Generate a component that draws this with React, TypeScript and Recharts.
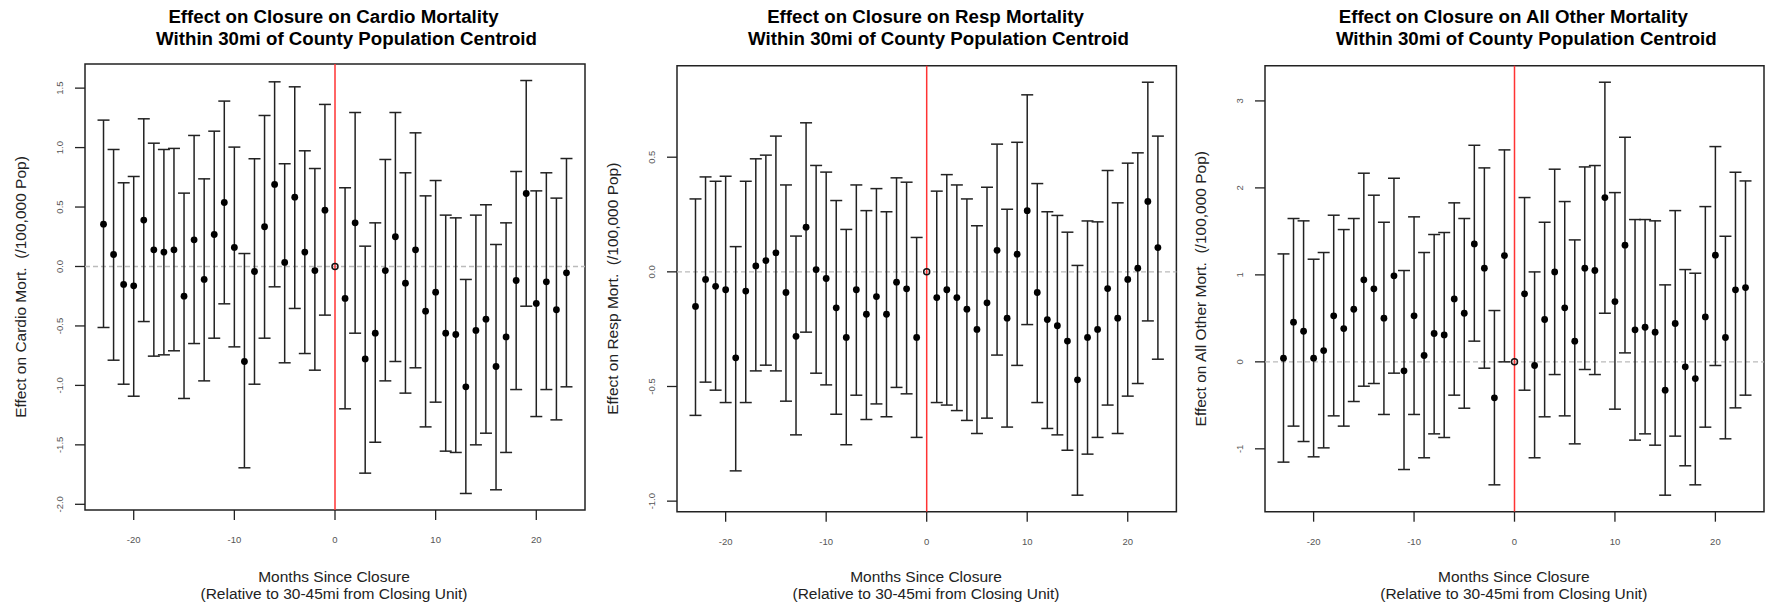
import React from 'react';
import { ScatterChart, Scatter, XAxis, YAxis, ErrorBar, ReferenceLine, ReferenceArea } from 'recharts';

// Months relative to closure (month 0 is the reference period, drawn separately)
const months = [
  -23, -22, -21, -20, -19, -18, -17, -16, -15, -14, -13, -12, -11, -10, -9, -8, -7, -6, -5, -4, -3, -2, -1,
  1, 2, 3, 4, 5, 6, 7, 8, 9, 10, 11, 12, 13, 14, 15, 16, 17, 18, 19, 20, 21, 22, 23,
];
const referenceMonth = [0];
const referenceValue = [0];

const cardioEst = [
  0.356, 0.101, -0.151, -0.163, 0.39, 0.14, 0.121, 0.14, -0.25, 0.224, -0.109, 0.269, 0.538, 0.16, -0.799, -0.042, 0.334, 0.69, 0.034, 0.583, 0.121, -0.034, 0.474,
  -0.269, 0.367, -0.777, -0.561, -0.034, 0.25, -0.14, 0.14, -0.376, -0.216, -0.561, -0.572, -1.012, -0.538, -0.443, -0.841, -0.592, -0.118, 0.614, -0.311, -0.129, -0.364, -0.053,
];
const cardioLo = [
  -0.513, -0.788, -0.99, -1.091, -0.463, -0.754, -0.743, -0.709, -1.11, -0.648, -0.962, -0.603, -0.314, -0.676, -1.693, -0.99, -0.603, -0.171, -0.81, -0.353, -0.732, -0.872, -0.409,
  -1.197, -0.561, -1.738, -1.478, -0.962, -0.799, -1.065, -0.852, -1.349, -1.141, -1.553, -1.564, -1.909, -1.5, -1.402, -1.878, -1.564, -1.035, -0.334, -1.262, -1.035, -1.29, -1.012,
];
const cardioHi = [
  1.231, 0.984, 0.704, 0.757, 1.242, 1.037, 0.984, 0.993, 0.617, 1.102, 0.737, 1.138, 1.391, 1.004, 0.109, 0.906, 1.27, 1.553, 0.864, 1.511, 0.973, 0.824, 1.363,
  0.662, 1.295, 0.171, 0.367, 0.9, 1.295, 0.788, 1.124, 0.594, 0.723, 0.432, 0.409, -0.109, 0.432, 0.519, 0.185, 0.367, 0.799, 1.564, 0.636, 0.788, 0.575, 0.908,
];

const respEst = [
  -0.151, -0.033, -0.063, -0.078, -0.375, -0.084, 0.026, 0.049, 0.083, -0.09, -0.281, 0.195, 0.01, -0.029, -0.157, -0.286, -0.078, -0.185, -0.108, -0.185, -0.045, -0.074, -0.286,
  -0.112, -0.078, -0.112, -0.163, -0.251, -0.135, 0.094, -0.202, 0.077, 0.267, -0.09, -0.208, -0.235, -0.302, -0.471, -0.286, -0.251, -0.073, -0.202, -0.033, 0.016, 0.307, 0.106,
];
const respLo = [
  -0.626, -0.481, -0.516, -0.57, -0.868, -0.57, -0.432, -0.407, -0.432, -0.564, -0.711, -0.263, -0.442, -0.493, -0.621, -0.754, -0.538, -0.644, -0.576, -0.632, -0.504, -0.532, -0.722,
  -0.57, -0.581, -0.605, -0.648, -0.705, -0.638, -0.363, -0.677, -0.408, -0.23, -0.57, -0.683, -0.711, -0.778, -0.974, -0.795, -0.722, -0.581, -0.705, -0.542, -0.487, -0.214, -0.381,
];
const respHi = [
  0.318, 0.414, 0.395, 0.417, 0.11, 0.395, 0.493, 0.509, 0.592, 0.379, 0.156, 0.65, 0.464, 0.435, 0.311, 0.185, 0.379, 0.267, 0.363, 0.262, 0.41, 0.391, 0.15,
  0.352, 0.424, 0.379, 0.318, 0.201, 0.369, 0.557, 0.273, 0.565, 0.772, 0.385, 0.262, 0.246, 0.173, 0.028, 0.222, 0.218, 0.442, 0.301, 0.474, 0.519, 0.827, 0.592,
];

const otherEst = [
  0.042, 0.456, 0.352, 0.042, 0.13, 0.529, 0.383, 0.605, 0.943, 0.839, 0.502, 0.989, -0.103, 0.529, 0.073, 0.326, 0.31, 0.724, 0.559, 1.356, 1.077, -0.414, 1.222,
  0.782, -0.042, 0.487, 1.034, 0.621, 0.238, 1.077, 1.05, 1.889, 0.693, 1.341, 0.368, 0.398, 0.341, -0.326, 0.441, -0.057, -0.192, 0.517, 1.226, 0.28, 0.828, 0.854,
];
const otherLo = [
  -1.153, -0.739, -0.916, -1.092, -0.989, -0.621, -0.739, -0.456, -0.28, -0.249, -0.605, -0.13, -1.238, -0.605, -1.103, -0.828, -0.87, -0.383, -0.533, 0.238, -0.073, -1.414, 0.0,
  -0.326, -1.103, -0.632, -0.146, -0.621, -0.943, -0.088, -0.146, 0.559, -0.544, 0.103, -0.9, -0.828, -0.958, -1.533, -0.854, -1.195, -1.414, -0.751, -0.042, -0.885, -0.529, -0.383,
];
const otherHi = [
  1.241, 1.648, 1.621, 1.18, 1.257, 1.686, 1.521, 1.648, 2.169, 1.916, 1.605, 2.111, 1.05, 1.667, 1.257, 1.464, 1.487, 1.828, 1.648, 2.49, 2.23, 0.59, 2.437,
  1.889, 1.034, 1.605, 2.215, 1.843, 1.402, 2.241, 2.257, 3.215, 1.946, 2.582, 1.636, 1.636, 1.621, 0.885, 1.739, 1.061, 1.019, 1.785, 2.475, 1.444, 2.18, 2.08,
];

const xTicks = [-20, -10, 0, 10, 20];
const cardioTicks = [-2, -1.5, -1, -0.5, 0, 0.5, 1, 1.5];
const respTicks = [-1, -0.5, 0, 0.5];
const otherTicks = [-1, 0, 1, 2, 3];

const cardioTitle = ['Effect on Closure on Cardio Mortality', 'Within 30mi of County Population Centroid'];
const respTitle = ['Effect on Closure on Resp Mortality', 'Within 30mi of County Population Centroid'];
const otherTitle = ['Effect on Closure on All Other Mortality', 'Within 30mi of County Population Centroid'];
const xTitle = ['Months Since Closure', '(Relative to 30-45mi from Closing Unit)'];
const cardioYTitle = 'Effect on Cardio Mort.  (/100,000 Pop)';
const respYTitle = 'Effect on Resp Mort.  (/100,000 Pop)';
const otherYTitle = 'Effect on All Other Mort.  (/100,000 Pop)';

const FONT = '"Liberation Sans", Arial, Helvetica, sans-serif';
const W = 1765;
const H = 608;
const YW = 85;
const RM = 1;
const XH = 40;

// R-style axis range: data range extended by 4% on each side
function rRange(values: number[]): [number, number] {
  const mn = Math.min(...values);
  const mx = Math.max(...values);
  const pad = (mx - mn) * 0.04;
  return [mn - pad, mx + pad];
}

type Box = { l: number; r: number; t: number; b: number };

const YTick = (props: any) => {
  const { x, y, payload, decimals } = props;
  const bx = x - 11.7;
  return (
    <text
      x={bx}
      y={y}
      transform={`rotate(-90 ${bx} ${y})`}
      textAnchor="middle"
      fill="#555"
      fontSize={9.5}
      fontFamily={FONT}
    >
      {Number(payload.value).toFixed(decimals)}
    </text>
  );
};

const Dot = (props: any) => <circle cx={props.cx} cy={props.cy} r={3.4} fill="#000" />;
const Hollow = (props: any) => (
  <circle cx={props.cx} cy={props.cy} r={3} fill="none" stroke="#111" strokeWidth={1.5} />
);

function Panel(p: {
  box: Box;
  est: number[];
  lo: number[];
  hi: number[];
  yTicks: number[];
  decimals: number;
}) {
  const { box, est, lo, hi, yTicks, decimals } = p;
  const width = box.r - box.l + YW + RM;
  const left = box.l - YW;
  const data = months.map((m, i) => ({ x: m, y: est[i], err: [est[i] - lo[i], hi[i] - est[i]] }));
  const refData = referenceMonth.map((m, i) => ({ x: m, y: referenceValue[i] }));
  const xDom = rRange([...months, ...referenceMonth]);
  const yDom = rRange([...lo, ...hi, ...referenceValue]);
  return (
    <div style={{ position: 'absolute', left, top: 0 }}>
      <ScatterChart
        width={width}
        height={H}
        margin={{ top: box.t, right: RM, left: 0, bottom: H - box.b - XH }}
      >
        <XAxis
          type="number"
          dataKey="x"
          domain={xDom}
          ticks={xTicks}
          interval={0}
          allowDataOverflow
          axisLine={false}
          tickSize={10}
          tickMargin={16.7}
          height={XH}
          tickLine={{ stroke: '#222', strokeWidth: 1.3 }}
          tick={{ fill: '#555', fontSize: 9.5, fontFamily: FONT }}
        />
        <YAxis
          type="number"
          dataKey="y"
          domain={yDom}
          ticks={yTicks}
          interval={0}
          allowDataOverflow
          axisLine={false}
          tickSize={10}
          tickMargin={0}
          width={YW}
          tickLine={{ stroke: '#222', strokeWidth: 1.3 }}
          tick={(tp: any) => <YTick {...tp} decimals={decimals} />}
        />
        <ReferenceArea
          x1={xDom[0]}
          x2={xDom[1]}
          y1={yDom[0]}
          y2={yDom[1]}
          fill="#fff"
          fillOpacity={0}
          stroke="#222"
          strokeWidth={1.5}
          ifOverflow="visible"
        />
        <ReferenceLine y={0} stroke="#bbb" strokeDasharray="5 3" strokeWidth={1.3} />
        <Scatter data={data} shape={Dot} isAnimationActive={false}>
          <ErrorBar dataKey="err" direction="y" width={6} stroke="#222" strokeWidth={1.5} />
        </Scatter>
        <Scatter data={refData} shape={Hollow} isAnimationActive={false} />
        <ReferenceLine x={0} stroke="#f33" strokeWidth={1.5} />
      </ScatterChart>
    </div>
  );
}

const panels = [
  { box: { l: 85, r: 585, t: 64, b: 510 }, est: cardioEst, lo: cardioLo, hi: cardioHi, yTicks: cardioTicks, decimals: 1, title: cardioTitle, yTitle: cardioYTitle },
  { box: { l: 677.3, r: 1176.7, t: 65.7, b: 511.7 }, est: respEst, lo: respLo, hi: respHi, yTicks: respTicks, decimals: 1, title: respTitle, yTitle: respYTitle },
  { box: { l: 1265.3, r: 1764.3, t: 65.7, b: 511.7 }, est: otherEst, lo: otherLo, hi: otherHi, yTicks: otherTicks, decimals: 0, title: otherTitle, yTitle: otherYTitle },
];

export default function App() {
  return (
    <div
      style={{
        position: 'absolute',
        left: 0,
        top: 0,
        width: W,
        height: H,
        overflow: 'hidden',
        background: '#fff',
        fontFamily: FONT,
      }}
    >
      {panels.map((p, i) => (
        <Panel key={i} box={p.box} est={p.est} lo={p.lo} hi={p.hi} yTicks={p.yTicks} decimals={p.decimals} />
      ))}
      <svg width={W} height={H} style={{ position: 'absolute', left: 0, top: 0, pointerEvents: 'none' }}>
        {panels.map((p, i) => {
          const cx = (p.box.l + p.box.r) / 2;
          const cy = (p.box.t + p.box.b) / 2;
          const bx = p.box.l - 59;
          return (
            <g key={i} fontFamily={FONT}>
              <text x={cx - 1.5} y={23} textAnchor="middle" fontWeight="bold" fontSize={18.7} fill="#000">
                {p.title[0]}
              </text>
              <text x={cx + 11.5} y={45} textAnchor="middle" fontWeight="bold" fontSize={18.7} fill="#000">
                {p.title[1]}
              </text>
              <text x={cx - 1} y={581.7} textAnchor="middle" fontSize={15.5} fill="#222">
                {xTitle[0]}
              </text>
              <text x={cx - 1} y={599} textAnchor="middle" fontSize={15.5} fill="#222">
                {xTitle[1]}
              </text>
              <text
                x={bx}
                y={cy}
                transform={`rotate(-90 ${bx} ${cy})`}
                textAnchor="middle"
                fontSize={15.5}
                fill="#222"
                xmlSpace="preserve"
                style={{ whiteSpace: 'pre' }}
              >
                {p.yTitle}
              </text>
            </g>
          );
        })}
      </svg>
    </div>
  );
}
